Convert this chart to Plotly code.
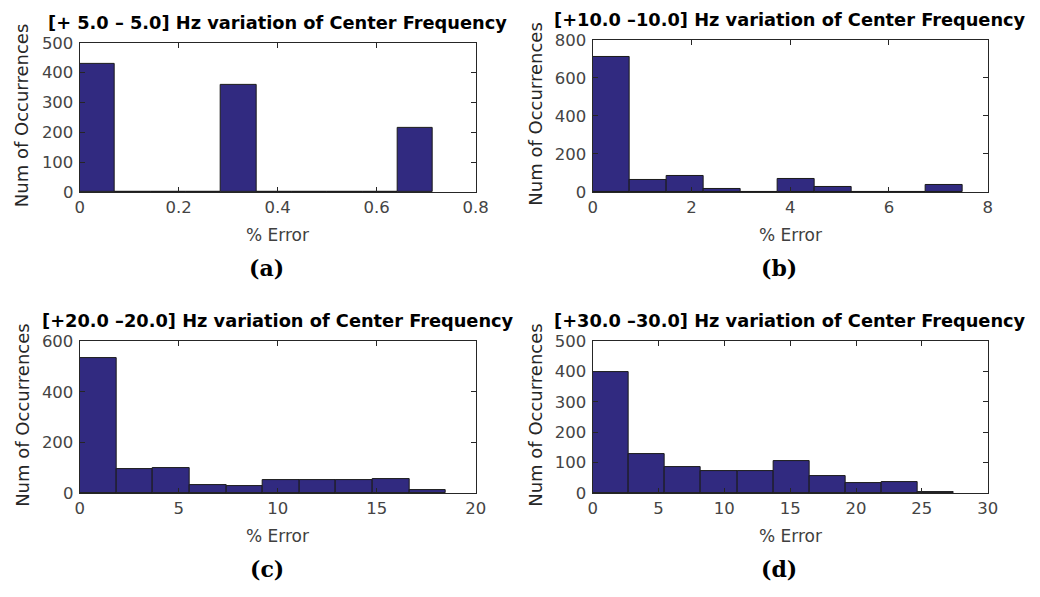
import numpy as np
import plotly.graph_objects as go

# Histogram counts per panel (10 equal-width bins starting at 0)
titles = [
    "[+ 5.0 \u2013 5.0] Hz variation of Center Frequency",
    "[+10.0 \u201310.0] Hz variation of Center Frequency",
    "[+20.0 \u201320.0] Hz variation of Center Frequency",
    "[+30.0 \u201330.0] Hz variation of Center Frequency",
]
captions = ["(a)", "(b)", "(c)", "(d)"]

bin_width_a = 0.0714
counts_a = [428, 0, 0, 0, 358, 0, 0, 0, 0, 214]

bin_width_b = 0.75
counts_b = [713, 65, 85, 15, 0, 70, 27, 0, 0, 37]

bin_width_c = 1.85
counts_c = [534, 96, 97, 33, 27, 51, 52, 50, 54, 11]

bin_width_d = 2.745
counts_d = [399, 127, 86, 71, 74, 106, 56, 33, 37, 3]

x_ranges = [[0, 0.8], [0, 8], [0, 20], [0, 30]]
x_dticks = [0.2, 2, 5, 5]
y_ranges = [[0, 500], [0, 800], [0, 600], [0, 500]]
y_dticks = [100, 200, 200, 100]

W, H = 1040, 597

# Plot-area boxes in pixels: (left, right, top, bottom)
boxes = [
    (76, 479, 35, 189),
    (598, 1000, 32, 189),
    (76, 479, 343, 500),
    (598, 1000, 343, 500),
]

BAR_COLOR = "#312a80"
TICK_COLOR = "#444444"
FONT = "DejaVu Sans"

panels = [
    (bin_width_a, counts_a),
    (bin_width_b, counts_b),
    (bin_width_c, counts_c),
    (bin_width_d, counts_d),
]

fig = go.Figure()
annotations = []
layout_axes = {}

for i, ((bw, counts), (l, r, t, b)) in enumerate(zip(panels, boxes)):
    n = i + 1
    xa = "x" if n == 1 else f"x{n}"
    ya = "y" if n == 1 else f"y{n}"
    left_edges = np.arange(len(counts)) * bw
    fig.add_trace(go.Bar(
        x=left_edges, y=counts, width=[bw] * len(counts), offset=0,
        marker=dict(color=BAR_COLOR, line=dict(color="#1a1a1a", width=1)),
        xaxis=xa, yaxis=ya, showlegend=False, hoverinfo="x+y",
    ))
    xd = [l / W, r / W]
    yd = [1 - b / H, 1 - t / H]
    axis_common = dict(
        showgrid=False, zeroline=False, showline=True, linecolor="#262626",
        linewidth=1, mirror="ticks", ticks="inside", ticklen=5,
        tickcolor="#262626", tickfont=dict(family=FONT, size=16.5, color=TICK_COLOR),
    )
    layout_axes["xaxis" if n == 1 else f"xaxis{n}"] = dict(
        domain=xd, range=x_ranges[i], dtick=x_dticks[i], tick0=0,
        anchor=ya, **axis_common,
    )
    layout_axes["yaxis" if n == 1 else f"yaxis{n}"] = dict(
        domain=yd, range=y_ranges[i], dtick=y_dticks[i], tick0=0,
        anchor=xa, ticklabelstandoff=2, **axis_common,
    )
    cx = (l + r) / 2
    # Panel title
    annotations.append(dict(
        x=cx / W, y=1 - (t - 21) / H, xref="paper", yref="paper",
        text=f"<b>{titles[i]}</b>", showarrow=False,
        font=dict(family=FONT, size=17.8, color="#000000"),
        xanchor="center", yanchor="middle", borderpad=0,
    ))
    # Y-axis label
    annotations.append(dict(
        x=(l - 59) / W, y=1 - ((t + b) / 2 - 2) / H, xref="paper", yref="paper",
        text="Num of Occurrences", showarrow=False, textangle=-90,
        font=dict(family=FONT, size=18, color="#262626"),
        xanchor="center", yanchor="middle", borderpad=0,
    ))
    # X-axis label
    annotations.append(dict(
        x=cx / W, y=1 - (b + 44) / H, xref="paper", yref="paper",
        text="% Error", showarrow=False,
        font=dict(family=FONT, size=17, color="#404040"),
        xanchor="center", yanchor="middle",
    ))
    # Sub-figure caption
    annotations.append(dict(
        x=(cx - 11) / W, y=1 - (b + 78) / H, xref="paper", yref="paper",
        text=f"<b>{captions[i]}</b>", showarrow=False,
        font=dict(family="DejaVu Serif", size=22, color="#000000"),
        xanchor="center", yanchor="middle",
    ))

fig.update_layout(
    width=W, height=H,
    margin=dict(l=0, r=0, t=0, b=0),
    paper_bgcolor="white", plot_bgcolor="white",
    bargap=0, annotations=annotations,
    **layout_axes,
)

fig.write_html("out.html")
